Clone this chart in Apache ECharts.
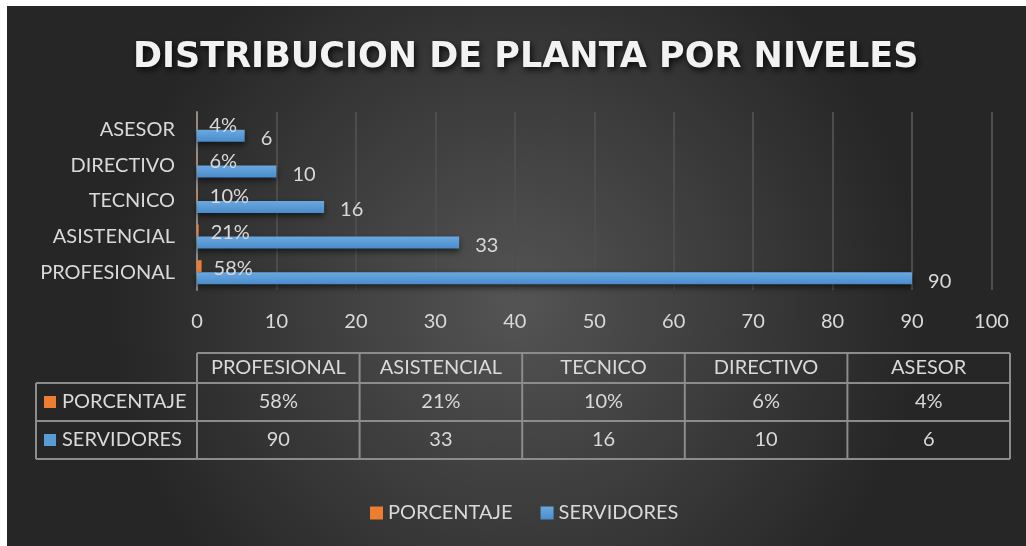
<!DOCTYPE html>
<html>
<head>
<meta charset="utf-8">
<style>
  html, body { margin: 0; padding: 0; background: #fff; }
  #chart { position: absolute; left: 7px; top: 6px; width: 1019px; height: 540px; }
</style>
<script src="https://cdn.jsdelivr.net/npm/echarts@6/dist/echarts.min.js"></script>
</head>
<body>
<div id="chart"></div>
<script>
// niveles, de abajo hacia arriba en el eje
var niveles = ['PROFESIONAL', 'ASISTENCIAL', 'TECNICO', 'DIRECTIVO', 'ASESOR'];
var porcentaje = [0.58, 0.21, 0.10, 0.06, 0.04];
var servidores = [90, 33, 16, 10, 6];
var seriesNames = ['PORCENTAJE', 'SERVIDORES'];

var FONT = 'Lato';
var TXT = '#d9d9d9';
var ORANGE = '#ed7d31';
var BLUE = '#5b9bd5';

var chart = echarts.init(document.getElementById('chart'));

function pct(v) { return Math.round(v * 100) + '%'; }

// tabla de datos bajo el grafico
function buildTable() {
    var els = [];
    var x0 = 190, colW = 162.6, labelX = 29;
    var yHead = 347, yR1 = 377, yR2 = 415, yEnd = 453;
    var line = { stroke: '#8c8c8c', lineWidth: 2 };
    var txt = function (x, y, s, align) {
        return { type: 'text', x: x, y: y, style: { text: s, fill: TXT, font: '20px ' + FONT, align: align || 'center', verticalAlign: 'middle' } };
    };
    var xEnd = x0 + colW * niveles.length;
    // horizontales
    els.push({ type: 'line', shape: { x1: x0, y1: yHead, x2: xEnd, y2: yHead }, style: line });
    [yR1, yR2, yEnd].forEach(function (y) {
        els.push({ type: 'line', shape: { x1: labelX, y1: y, x2: xEnd, y2: y }, style: line });
    });
    // verticales
    els.push({ type: 'line', shape: { x1: labelX, y1: yR1, x2: labelX, y2: yEnd }, style: line });
    for (var i = 0; i <= niveles.length; i++) {
        var x = x0 + colW * i;
        els.push({ type: 'line', shape: { x1: x, y1: yHead, x2: x, y2: yEnd }, style: line });
    }
    niveles.forEach(function (n, i) {
        var cx = x0 + colW * (i + 0.5);
        els.push(txt(cx, (yHead + yR1) / 2, n));
        els.push(txt(cx, (yR1 + yR2) / 2, pct(porcentaje[i])));
        els.push(txt(cx, (yR2 + yEnd) / 2, String(servidores[i])));
    });
    [ORANGE, BLUE].forEach(function (c, r) {
        var yc = r === 0 ? (yR1 + yR2) / 2 : (yR2 + yEnd) / 2;
        els.push({ type: 'rect', shape: { x: labelX + 8, y: yc - 6, width: 12, height: 12 }, style: { fill: c } });
        els.push(txt(labelX + 26, yc, seriesNames[r], 'left'));
    });
    return els;
}

var option = {
    backgroundColor: {
        type: 'radial', x: 0.5, y: 0.55, r: 0.75,
        colorStops: [{ offset: 0, color: '#545454' }, { offset: 1, color: '#262626' }]
    },
    animation: false,
    title: {
        text: 'DISTRIBUCION DE PLANTA POR NIVELES',
        left: 121,
        top: 29,
        textStyle: {
            color: '#f2f2f2', fontFamily: 'DejaVu Sans', fontWeight: 'bold', fontSize: 35,
            textShadowColor: 'rgba(0,0,0,0.8)', textShadowBlur: 6, textShadowOffsetX: 2, textShadowOffsetY: 3
        }
    },
    legend: {
        data: seriesNames,
        bottom: 18,
        left: 358,
        itemWidth: 13,
        itemHeight: 13,
        itemGap: 28,
        icon: 'rect',
        textStyle: { color: TXT, fontFamily: FONT, fontSize: 20 }
    },
    grid: { left: 190, right: 34.5, top: 106, height: 178, containLabel: false },
    xAxis: {
        type: 'value',
        min: 0, max: 100, interval: 10,
        axisLine: { show: false },
        axisTick: { show: false },
        splitLine: { lineStyle: { color: '#4d4d4d', width: 2 } },
        axisLabel: { color: TXT, fontFamily: FONT, fontSize: 20, margin: 22 }
    },
    yAxis: {
        type: 'category',
        data: niveles,
        axisLine: { lineStyle: { color: '#8c8c8c', width: 2 } },
        axisTick: { show: false },
        axisLabel: { color: TXT, fontFamily: FONT, fontSize: 20, margin: 22 }
    },
    series: [
        {
            name: 'PORCENTAJE',
            type: 'bar',
            data: porcentaje,
            barWidth: 12,
            barGap: '0%',
            itemStyle: { color: ORANGE },
            label: {
                show: true, position: 'right', distance: 12, offset: [0, 2],
                color: TXT, fontFamily: FONT, fontSize: 20,
                formatter: function (p) { return pct(p.value); }
            }
        },
        {
            name: 'SERVIDORES',
            type: 'bar',
            data: servidores,
            barWidth: 12,
            barGap: '0%',
            itemStyle: {
                color: { type: 'linear', x: 0, y: 0, x2: 0, y2: 1, colorStops: [{ offset: 0, color: '#6aa8e0' }, { offset: 1, color: '#4a8ccb' }] },
                shadowColor: 'rgba(0,0,0,0.6)', shadowBlur: 6, shadowOffsetY: 3
            },
            label: {
                show: true, position: 'right', distance: 16, offset: [0, 3],
                color: TXT, fontFamily: FONT, fontSize: 20
            }
        }
    ],
    graphic: buildTable()
};

chart.setOption(option);
</script>
</body>
</html>
